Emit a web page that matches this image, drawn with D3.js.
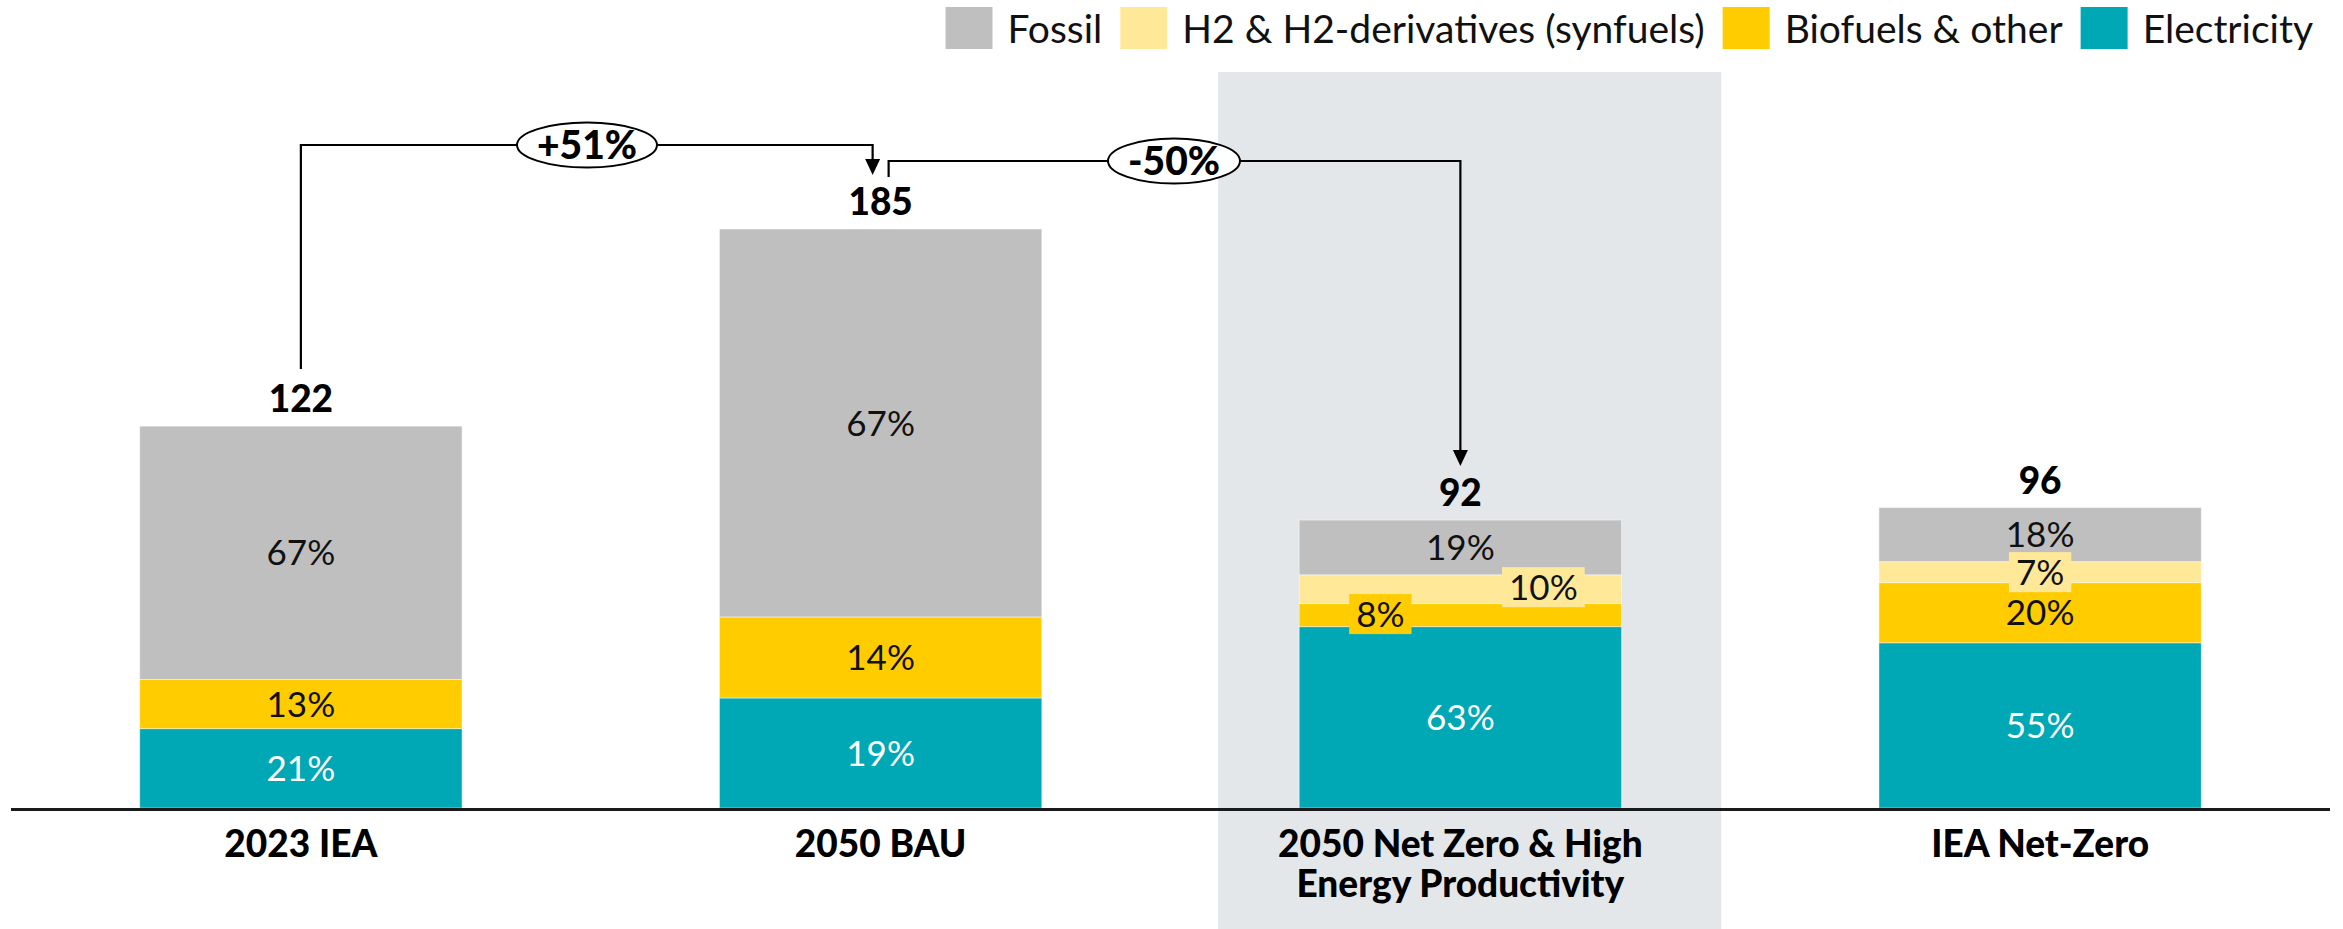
<!DOCTYPE html>
<html>
<head>
<meta charset="utf-8">
<script src="https://cdn.jsdelivr.net/npm/d3@7"></script>
<style>
  html, body { margin: 0; padding: 0; background: #ffffff; }
  svg { display: block; }
  text { font-family: Lato, "Open Sans", sans-serif; }
</style>
</head>
<body>
<svg id="chart" width="2343" height="929"></svg>
<script>
// Final energy demand by carrier, scenarios compared
const categories = ["2023 IEA", "2050 BAU", "2050 Net Zero & High Energy Productivity", "IEA Net-Zero"];
const categoryLines = [["2023 IEA"], ["2050 BAU"], ["2050 Net Zero & High", "Energy Productivity"], ["IEA Net-Zero"]];
const totals = [122, 185, 92, 96];

// shares of each total, in percent
const electricityShare = [21, 19, 63, 55];
const biofuelShare = [13, 14, 8, 20];
const h2Share = [0, 0, 10, 7];
const fossilShare = [67, 67, 19, 18];

// stacking order, bottom to top
const seriesNames = ["Electricity", "Biofuels & other", "H2 & H2-derivatives (synfuels)", "Fossil"];
const seriesShares = [electricityShare, biofuelShare, h2Share, fossilShare];
const legendOrder = ["Fossil", "H2 & H2-derivatives (synfuels)", "Biofuels & other", "Electricity"];

// change annotations between scenarios: [from, to, label]
const changes = [[0, 1, "+51%"], [1, 2, "-50%"]];

const colors = {
  "Fossil": "#bfbfbf",
  "H2 & H2-derivatives (synfuels)": "#ffe999",
  "Biofuels & other": "#ffcc00",
  "Electricity": "#00a8b5"
};

const W = 2343, H = 929;
const svg = d3.select("#chart");

const x = d3.scaleBand().domain(categories).range([11, 2330]).paddingInner(0.444).paddingOuter(0.222);
const y = d3.scaleLinear().domain([0, 185]).range([808, 229]);

// highlighted scenario background
const hiCat = categories[2];
svg.append("rect")
  .attr("x", x(hiCat) - 81).attr("y", 72)
  .attr("width", 503).attr("height", H - 72)
  .attr("fill", "#e3e7ea");

// build stacked segments
const rows = categories.map((c, i) => {
  const sum = seriesShares.reduce((a, s) => a + s[i], 0);
  const row = { category: c, total: totals[i] };
  seriesNames.forEach((n, k) => { row[n] = totals[i] * seriesShares[k][i] / sum; });
  return row;
});
const stack = d3.stack().keys(seriesNames)(rows);

const segFont = 35;
// label nudges for thin segments (px, from bar centre)
const labelNudge = {
  "2050 Net Zero & High Energy Productivity|H2 & H2-derivatives (synfuels)": { dx: 83, dy: -2, box: true },
  "2050 Net Zero & High Energy Productivity|Biofuels & other": { dx: -80, dy: -1, box: true },
  "IEA Net-Zero|H2 & H2-derivatives (synfuels)": { dx: 0, dy: 0, box: true }
};

const layer = svg.append("g");
stack.forEach((ser, k) => {
  const name = ser.key;
  ser.forEach((d, i) => {
    if (d[1] - d[0] <= 0) return;
    layer.append("rect")
      .attr("x", x(categories[i]))
      .attr("y", y(d[1]))
      .attr("width", x.bandwidth())
      .attr("height", y(d[0]) - y(d[1]))
      .attr("fill", colors[name])
      .attr("stroke", "#ffffff").attr("stroke-opacity", 0.45).attr("stroke-width", 1);
  });
});

// segment labels
const labelLayer = svg.append("g");
stack.forEach((ser, k) => {
  const name = ser.key;
  ser.forEach((d, i) => {
    const share = seriesShares[k][i];
    if (!share) return;
    const nudge = labelNudge[categories[i] + "|" + name] || { dx: 0, dy: 0, box: false };
    const cx = x(categories[i]) + x.bandwidth() / 2 + nudge.dx;
    const cy = (y(d[0]) + y(d[1])) / 2 + nudge.dy;
    const g = labelLayer.append("g");
    const t = g.append("text")
      .attr("x", cx).attr("y", cy + segFont * 0.36)
      .attr("text-anchor", "middle")
      .attr("font-size", segFont)
      .attr("fill", name === "Electricity" ? "#ffffff" : "#111111")
      .text(share + "%");
    if (nudge.box) {
      const bb = t.node().getBBox();
      g.insert("rect", "text")
        .attr("x", bb.x - 7).attr("y", cy - 20)
        .attr("width", bb.width + 14).attr("height", 40)
        .attr("fill", colors[name]);
    }
  });
});

// totals above bars
svg.append("g").selectAll("text").data(categories).join("text")
  .attr("x", c => x(c) + x.bandwidth() / 2)
  .attr("y", (c, i) => y(totals[i]) - 14)
  .attr("text-anchor", "middle")
  .attr("font-size", 37).attr("font-weight", 900)
  .attr("fill", "#000")
  .text((c, i) => totals[i]);

// baseline
svg.append("line").attr("x1", 11).attr("x2", 2330).attr("y1", 809.5).attr("y2", 809.5)
  .attr("stroke", "#1a1a1a").attr("stroke-width", 3);

// category labels
const catG = svg.append("g");
categories.forEach((c, i) => {
  const t = catG.append("text")
    .attr("text-anchor", "middle")
    .attr("font-size", 37).attr("font-weight", 900).attr("fill", "#000");
  categoryLines[i].forEach((ln, j) => {
    t.append("tspan").attr("x", x(c) + x.bandwidth() / 2).attr("y", 857 + j * 40).text(ln);
  });
});

// change connectors
const arrowSize = { w: 15, h: 16 };
const ann = svg.append("g");
const cx = i => x(categories[i]) + x.bandwidth() / 2;
const connectorY = [145, 161];
const startY = [369, 177];
const pillW = [140, 132];
changes.forEach(([from, to, label], k) => {
  const x0 = cx(from) + (k === 1 ? 8 : 0);
  const x1 = cx(to) - (k === 0 ? 8 : 0);
  const yy = connectorY[k];
  const tipY = y(totals[to]) - 54;
  ann.append("path")
    .attr("d", `M${x0},${startY[k]} V${yy} H${x1} V${tipY - arrowSize.h}`)
    .attr("fill", "none").attr("stroke", "#000").attr("stroke-width", 2.2);
  ann.append("path")
    .attr("d", `M${x1 - arrowSize.w / 2},${tipY - arrowSize.h} L${x1 + arrowSize.w / 2},${tipY - arrowSize.h} L${x1},${tipY} Z`)
    .attr("fill", "#000");
  const mx = k === 0 ? 587 : 1174;
  ann.append("ellipse")
    .attr("cx", mx).attr("cy", yy)
    .attr("rx", pillW[k] / 2).attr("ry", 22.5)
    .attr("fill", "#fff").attr("stroke", "#000").attr("stroke-width", 2);
  ann.append("text")
    .attr("x", mx).attr("y", yy + 14)
    .attr("text-anchor", "middle")
    .attr("font-size", 39).attr("font-weight", 900)
    .text(label);
});

// legend, laid out right to left
const legFont = 39, sw = 47, sh = 42, swGap = 15, itemGap = 18;
const leg = svg.append("g");
let rightEdge = 2313;
legendOrder.slice().reverse().forEach(name => {
  const t = leg.append("text")
    .attr("font-size", legFont).attr("fill", "#111")
    .attr("y", 43)
    .text(name);
  const w = t.node().getComputedTextLength();
  t.attr("x", rightEdge - w);
  leg.append("rect")
    .attr("x", rightEdge - w - swGap - sw).attr("y", 7)
    .attr("width", sw).attr("height", sh)
    .attr("fill", colors[name]);
  rightEdge = rightEdge - w - swGap - sw - itemGap;
});
</script>
</body>
</html>
